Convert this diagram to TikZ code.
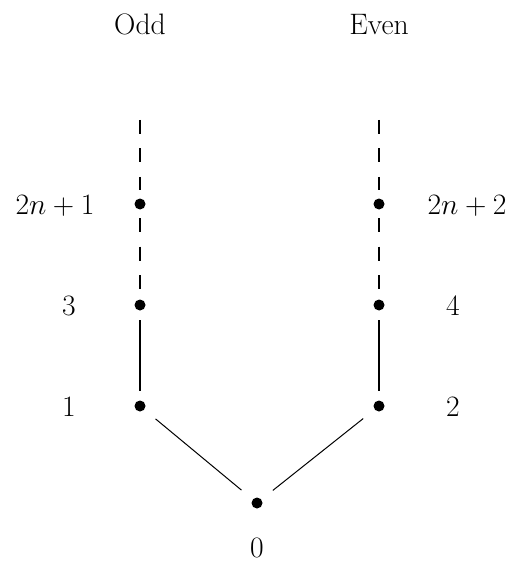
\RequirePackage{fix-cm}
\documentclass[tikz,border=0pt]{standalone}
\begin{document}
\begin{tikzpicture}[x=1pt,y=-1pt,
  dot/.style={circle,fill=black,inner sep=0pt,minimum size=11pt},
  lbl/.style={font=\fontsize{29.6}{36}\selectfont,inner sep=0pt,anchor=base},
  dashedline/.style={line width=1.3pt,dash pattern=on 14pt off 14.5pt,shorten >=8.5pt,shorten <=8.5pt},
  solidline/.style={line width=2pt,shorten >=9.5pt,shorten <=9.5pt},
  diagline/.style={line width=1pt,shorten >=14.5pt,shorten <=14.5pt}]
\useasboundingbox (0,0) rectangle (514,561);
% dots
\node[dot] (o1) at (140,406) {};
\node[dot] (o3) at (140,305) {};
\node[dot] (on) at (140,204) {};
\node[dot] (e2) at (379,406) {};
\node[dot] (e4) at (379,305) {};
\node[dot] (en) at (379,204) {};
\node[dot] (z) at (257,503) {};
\coordinate (otop) at (140,111.5);
\coordinate (etop) at (379,111.5);
% connectors
\draw[dashedline] (otop) -- (on);
\draw[dashedline] (on) -- (o3);
\draw[solidline] (o3) -- (o1);
\draw[dashedline] (etop) -- (en);
\draw[dashedline] (en) -- (e4);
\draw[solidline] (e4) -- (e2);
\draw[diagline] (o1) -- (z);
\draw[diagline] (e2) -- (z);
% labels
\node[lbl] (odd) at (140,35) {Odd};
\node[lbl] (even) at (379,35) {Even};
\node[lbl] (l2n1) at (55,214) {$2n+1$};
\node[lbl] (l3) at (69,315) {$3$};
\node[lbl] (l1) at (69,416) {$1$};
\node[lbl] (l2n2) at (467,214) {$2n+2$};
\node[lbl] (l4) at (453,315) {$4$};
\node[lbl] (l2) at (453,416) {$2$};
\node[lbl] (l0) at (257,557) {$0$};
\end{tikzpicture}
\end{document}
